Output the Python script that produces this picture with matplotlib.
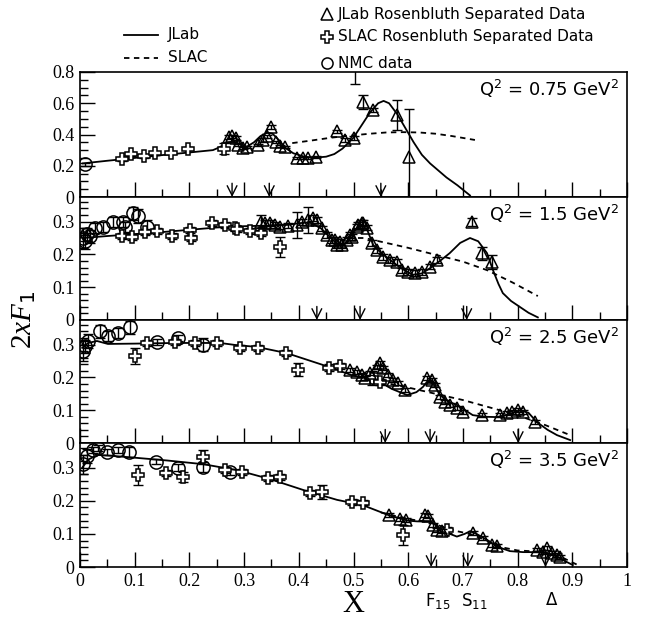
import matplotlib
matplotlib.use("Agg")
import matplotlib.pyplot as plt
from matplotlib.lines import Line2D
from matplotlib.ticker import MultipleLocator, FuncFormatter

plt.rcParams['font.family'] = ['DejaVu Sans']
plt.rcParams['mathtext.fontset'] = 'custom'
plt.rcParams['mathtext.rm'] = 'DejaVu Sans'
plt.rcParams['mathtext.it'] = 'Liberation Serif:italic'
plt.rcParams['mathtext.default'] = 'regular'

# ---------------- data: Q2 = 0.75 ----------------
p1_fit_x = [0.005, 0.05, 0.1, 0.15, 0.2, 0.243, 0.255, 0.268, 0.28, 0.292, 0.305, 0.318, 0.33, 0.342,
            0.352, 0.362, 0.375, 0.39, 0.41, 0.43, 0.45, 0.465, 0.48, 0.5, 0.515, 0.53, 0.545, 0.555,
            0.565, 0.58, 0.595, 0.61, 0.625, 0.64, 0.655, 0.67, 0.69, 0.713]
p1_fit_y = [0.215, 0.232, 0.25, 0.268, 0.285, 0.3, 0.318, 0.345, 0.355, 0.34, 0.322, 0.35, 0.39, 0.412,
            0.405, 0.37, 0.315, 0.28, 0.258, 0.252, 0.258, 0.275, 0.31, 0.38, 0.46, 0.54, 0.6, 0.615,
            0.6, 0.53, 0.44, 0.35, 0.27, 0.215, 0.17, 0.125, 0.075, 0.01]
p1_slac_fit_x = [0.388, 0.42, 0.46, 0.5, 0.53, 0.56, 0.59, 0.62, 0.65, 0.68, 0.722]
p1_slac_fit_y = [0.345, 0.36, 0.38, 0.395, 0.405, 0.413, 0.415, 0.413, 0.405, 0.39, 0.365]
p1_jlab_x = [0.272, 0.278, 0.285, 0.289, 0.298, 0.305, 0.325, 0.335, 0.342, 0.349, 0.358, 0.366, 0.375,
             0.397, 0.408, 0.417, 0.431, 0.47, 0.484, 0.5, 0.503, 0.517, 0.536, 0.58, 0.601]
p1_jlab_y = [0.384, 0.39, 0.378, 0.333, 0.314, 0.32, 0.333, 0.365, 0.39, 0.448, 0.352, 0.326, 0.32,
             0.25, 0.25, 0.25, 0.256, 0.42, 0.365, 0.378, 0.87, 0.61, 0.557, 0.525, 0.256]
p1_jlab_e = [0.01, 0.01, 0.01, 0.008, 0.008, 0.008, 0.008, 0.01, 0.01, 0.01, 0.008, 0.008, 0.008,
             0.008, 0.008, 0.008, 0.008, 0.01, 0.01, 0.01, 0.145, 0.045, 0.01, 0.095, 0.307]
p1_slac_x = [0.077, 0.093, 0.117, 0.137, 0.166, 0.198, 0.263]
p1_slac_y = [0.243, 0.275, 0.262, 0.28, 0.283, 0.31, 0.31]
p1_slac_e = [0.01, 0.01, 0.01, 0.01, 0.01, 0.01, 0.035]
p1_nmc_x = [0.01]
p1_nmc_y = [0.21]
p1_nmc_e = [0.01]
p1_arrows = [0.278, 0.346, 0.55]

# ---------------- data: Q2 = 1.5 ----------------
p2_fit_x = [0.005, 0.05, 0.1, 0.15, 0.2, 0.25, 0.3, 0.35, 0.38, 0.4, 0.42, 0.44, 0.457, 0.47, 0.48,
            0.49, 0.5, 0.515, 0.525, 0.536, 0.55, 0.567, 0.585, 0.608, 0.625, 0.64, 0.658, 0.676,
            0.695, 0.713, 0.728, 0.744, 0.755, 0.765, 0.773, 0.788, 0.804, 0.82, 0.837]
p2_fit_y = [0.25, 0.256, 0.262, 0.268, 0.275, 0.282, 0.286, 0.288, 0.29, 0.295, 0.298, 0.28, 0.253,
            0.232, 0.228, 0.24, 0.27, 0.29, 0.275, 0.229, 0.205, 0.183, 0.16, 0.138, 0.142, 0.158,
            0.18, 0.204, 0.235, 0.25, 0.24, 0.204, 0.152, 0.11, 0.082, 0.058, 0.04, 0.022, 0.008]
p2_slac_fit_x = [0.49, 0.52, 0.56, 0.6, 0.652, 0.7, 0.744, 0.79, 0.837]
p2_slac_fit_y = [0.25, 0.25, 0.235, 0.22, 0.198, 0.178, 0.152, 0.115, 0.073]
p2_jlab_x = [0.331, 0.338, 0.347, 0.356, 0.366, 0.38, 0.396, 0.406, 0.417, 0.426, 0.433, 0.442, 0.452,
             0.461, 0.466, 0.47, 0.475, 0.479, 0.488, 0.494, 0.497, 0.506, 0.508, 0.515, 0.517, 0.525,
             0.534, 0.543, 0.554, 0.567, 0.579, 0.589, 0.6, 0.612, 0.625, 0.64, 0.653, 0.717, 0.735,
             0.753]
p2_jlab_y = [0.299, 0.296, 0.296, 0.29, 0.284, 0.287, 0.29, 0.299, 0.305, 0.311, 0.305, 0.28, 0.259,
             0.244, 0.244, 0.228, 0.238, 0.228, 0.244, 0.259, 0.253, 0.284, 0.29, 0.296, 0.296, 0.281,
             0.235, 0.213, 0.192, 0.183, 0.177, 0.152, 0.146, 0.143, 0.146, 0.162, 0.183, 0.299, 0.204,
             0.177]
p2_jlab_e = [0.02, 0.008, 0.008, 0.008, 0.008, 0.008, 0.04, 0.008, 0.04, 0.008, 0.008, 0.008, 0.008,
             0.008, 0.008, 0.008, 0.008, 0.008, 0.008, 0.008, 0.008, 0.008, 0.008, 0.008, 0.008, 0.008,
             0.008, 0.008, 0.008, 0.008, 0.008, 0.008, 0.008, 0.008, 0.008, 0.008, 0.008, 0.012, 0.02,
             0.02]
p2_slac_x = [0.077, 0.095, 0.119, 0.141, 0.168, 0.201, 0.203, 0.241, 0.265, 0.283, 0.287, 0.311, 0.331,
             0.366]
p2_slac_y = [0.256, 0.253, 0.268, 0.271, 0.256, 0.274, 0.25, 0.296, 0.29, 0.28, 0.277, 0.271, 0.265,
             0.223]
p2_slac_e = [0.01, 0.01, 0.01, 0.01, 0.01, 0.01, 0.01, 0.01, 0.01, 0.01, 0.01, 0.01, 0.01, 0.03]
p2_nmc_x = [0.005, 0.009, 0.013, 0.018, 0.027, 0.042, 0.06, 0.079, 0.082, 0.097, 0.106, 0.122]
p2_nmc_y = [0.25, 0.24, 0.262, 0.255, 0.28, 0.284, 0.299, 0.299, 0.284, 0.326, 0.317, 0.284]
p2_nmc_e = [0.03, 0.025, 0.02, 0.02, 0.015, 0.015, 0.015, 0.015, 0.015, 0.02, 0.02, 0.02]
p2_arrows = [0.433, 0.512, 0.707]

# ---------------- data: Q2 = 2.5 ----------------
p3_fit_x = [0.004, 0.015, 0.031, 0.051, 0.1, 0.174, 0.256, 0.283, 0.323, 0.378, 0.444, 0.5, 0.53,
            0.548, 0.57, 0.598, 0.615, 0.627, 0.636, 0.645, 0.658, 0.675, 0.689, 0.718, 0.74, 0.762,
            0.785, 0.804, 0.82, 0.835, 0.855, 0.872, 0.896]
p3_fit_y = [0.29, 0.305, 0.311, 0.302, 0.303, 0.305, 0.305, 0.299, 0.293, 0.274, 0.238, 0.205, 0.198,
            0.186, 0.165, 0.146, 0.155, 0.171, 0.19, 0.185, 0.146, 0.125, 0.116, 0.085, 0.08, 0.079,
            0.088, 0.1, 0.092, 0.064, 0.04, 0.024, 0.009]
p3_slac_fit_x = [0.55, 0.603, 0.65, 0.7, 0.75, 0.799, 0.85, 0.896]
p3_slac_fit_y = [0.186, 0.168, 0.15, 0.131, 0.108, 0.085, 0.055, 0.024]
p3_jlab_x = [0.494, 0.506, 0.515, 0.521, 0.53, 0.543, 0.548, 0.554, 0.563, 0.572, 0.581, 0.594, 0.634,
             0.643, 0.649, 0.658, 0.667, 0.676, 0.689, 0.7, 0.735, 0.768, 0.781, 0.79, 0.801, 0.81,
             0.832]
p3_jlab_y = [0.223, 0.216, 0.207, 0.198, 0.213, 0.232, 0.244, 0.229, 0.207, 0.192, 0.183, 0.162, 0.198,
             0.192, 0.177, 0.14, 0.125, 0.116, 0.107, 0.094, 0.085, 0.085, 0.091, 0.094, 0.1, 0.094,
             0.064]
p3_slac_x = [0.1, 0.122, 0.174, 0.21, 0.25, 0.292, 0.325, 0.377, 0.399, 0.455, 0.476, 0.534, 0.548]
p3_slac_y = [0.265, 0.305, 0.308, 0.305, 0.305, 0.29, 0.29, 0.274, 0.223, 0.23, 0.235, 0.198, 0.186]
p3_slac_e = [0.025, 0.01, 0.01, 0.01, 0.01, 0.01, 0.01, 0.01, 0.02, 0.01, 0.01, 0.02, 0.01]
p3_nmc_x = [0.006, 0.01, 0.015, 0.036, 0.052, 0.069, 0.091, 0.141, 0.179, 0.225]
p3_nmc_y = [0.28, 0.295, 0.311, 0.341, 0.326, 0.335, 0.353, 0.308, 0.32, 0.299]
p3_nmc_e = [0.03, 0.02, 0.02, 0.02, 0.015, 0.015, 0.02, 0.01, 0.01, 0.02]
p3_arrows = [0.558, 0.64, 0.801]

# ---------------- data: Q2 = 3.5 ----------------
p4_fit_x = [0.004, 0.015, 0.033, 0.06, 0.104, 0.16, 0.225, 0.287, 0.347, 0.408, 0.47, 0.517, 0.567,
            0.6, 0.616, 0.64, 0.652, 0.664, 0.689, 0.703, 0.713, 0.725, 0.744, 0.765, 0.786, 0.81,
            0.846, 0.862, 0.877, 0.89, 0.901]
p4_fit_y = [0.3, 0.325, 0.339, 0.336, 0.33, 0.322, 0.311, 0.293, 0.266, 0.233, 0.203, 0.187, 0.155,
            0.14, 0.138, 0.137, 0.125, 0.108, 0.092, 0.1, 0.108, 0.1, 0.082, 0.06, 0.048, 0.045,
            0.045, 0.038, 0.027, 0.015, 0.006]
p4_slac_fit_x = [0.55, 0.6, 0.64, 0.664, 0.69, 0.713, 0.744, 0.77, 0.8, 0.846, 0.88, 0.915]
p4_slac_fit_y = [0.165, 0.145, 0.135, 0.121, 0.108, 0.1, 0.08, 0.06, 0.05, 0.046, 0.03, 0.002]
p4_jlab_x = [0.565, 0.585, 0.596, 0.631, 0.637, 0.645, 0.652, 0.661, 0.718, 0.737, 0.753, 0.762, 0.835,
             0.846, 0.853, 0.863, 0.872, 0.877]
p4_jlab_y = [0.157, 0.145, 0.142, 0.157, 0.154, 0.127, 0.112, 0.109, 0.103, 0.088, 0.067, 0.064, 0.051,
             0.045, 0.057, 0.042, 0.036, 0.03]
p4_slac_x = [0.106, 0.157, 0.188, 0.225, 0.265, 0.296, 0.344, 0.366, 0.42, 0.442, 0.497, 0.517, 0.591,
             0.671]
p4_slac_y = [0.278, 0.284, 0.272, 0.333, 0.293, 0.287, 0.269, 0.272, 0.224, 0.227, 0.197, 0.194, 0.097,
             0.112]
p4_slac_e = [0.03, 0.008, 0.015, 0.02, 0.008, 0.008, 0.008, 0.01, 0.008, 0.02, 0.008, 0.008, 0.03,
             0.008]
p4_nmc_x = [0.006, 0.013, 0.024, 0.033, 0.049, 0.069, 0.09, 0.139, 0.179, 0.225, 0.274]
p4_nmc_y = [0.31, 0.336, 0.354, 0.36, 0.348, 0.354, 0.348, 0.318, 0.3, 0.303, 0.287]
p4_nmc_e = [0.03, 0.02, 0.01, 0.01, 0.01, 0.01, 0.015, 0.008, 0.01, 0.015, 0.008]
p4_arrows = [0.642, 0.709, 0.851]

q2_labels = ['0.75', '1.5', '2.5', '3.5']
res_names = ['F$_{15}$', 'S$_{11}$', '\u0394']

panels = [
    dict(fit=(p1_fit_x, p1_fit_y), sfit=(p1_slac_fit_x, p1_slac_fit_y),
         jlab=(p1_jlab_x, p1_jlab_y, p1_jlab_e), slac=(p1_slac_x, p1_slac_y, p1_slac_e),
         nmc=(p1_nmc_x, p1_nmc_y, p1_nmc_e), arrows=p1_arrows, ymax=0.8, major=0.2, minor=0.05),
    dict(fit=(p2_fit_x, p2_fit_y), sfit=(p2_slac_fit_x, p2_slac_fit_y),
         jlab=(p2_jlab_x, p2_jlab_y, p2_jlab_e), slac=(p2_slac_x, p2_slac_y, p2_slac_e),
         nmc=(p2_nmc_x, p2_nmc_y, p2_nmc_e), arrows=p2_arrows, ymax=0.375, major=0.1, minor=0.02),
    dict(fit=(p3_fit_x, p3_fit_y), sfit=(p3_slac_fit_x, p3_slac_fit_y),
         jlab=(p3_jlab_x, p3_jlab_y, [0.006] * len(p3_jlab_x)), slac=(p3_slac_x, p3_slac_y, p3_slac_e),
         nmc=(p3_nmc_x, p3_nmc_y, p3_nmc_e), arrows=p3_arrows, ymax=0.375, major=0.1, minor=0.02),
    dict(fit=(p4_fit_x, p4_fit_y), sfit=(p4_slac_fit_x, p4_slac_fit_y),
         jlab=(p4_jlab_x, p4_jlab_y, [0.006] * len(p4_jlab_x)), slac=(p4_slac_x, p4_slac_y, p4_slac_e),
         nmc=(p4_nmc_x, p4_nmc_y, p4_nmc_e), arrows=p4_arrows, ymax=0.375, major=0.1, minor=0.02),
]

W, H = 646, 622
fig = plt.figure(figsize=(W / 100, H / 100), dpi=100)

# panel edges in pixels (top, bottom)
edges = [(72, 197), (197, 320), (320, 443), (443, 567)]
left, right = 80, 627


def fmt(v, pos):
    if abs(v) < 1e-9:
        return '0'
    if abs(v - 1) < 1e-9:
        return '1'
    return '%.1f' % v


axes = []
for i, (p, (top, bot)) in enumerate(zip(panels, edges)):
    ax = fig.add_axes([left / W, 1 - bot / H, (right - left) / W, (bot - top) / H])
    axes.append(ax)
    ax.plot(p['fit'][0], p['fit'][1], color='k', lw=1.3)
    ax.plot(p['sfit'][0], p['sfit'][1], color='k', lw=1.3, ls=(0, (3, 2.5)))
    for key, mk, ms in [('nmc', 'o', 9.5), ('slac', 'P', 9), ('jlab', '^', 9)]:
        xs, ys, es = p[key]
        ax.errorbar(xs, ys, yerr=es, fmt='none', ecolor='k', elinewidth=1, capsize=3.5, capthick=1)
        if key == 'slac':
            ax.plot(xs, ys, ls='none', marker=mk, ms=ms, mfc='white', mec='k', mew=1.1)
        else:
            ax.plot(xs, ys, ls='none', marker=mk, ms=ms, mfc='none', mec='k', mew=1.1)
    for xa in p['arrows']:
        ax.annotate('', xy=(xa, 0), xycoords=('data', 'axes fraction'),
                    xytext=(xa, 0.11), textcoords=('data', 'axes fraction'),
                    arrowprops=dict(arrowstyle='->,head_length=0.7,head_width=0.35',
                                    lw=1, color='k', shrinkA=0, shrinkB=0))
    ax.text(0.985, 0.95, r'Q$^2$ = ' + q2_labels[i] + r' GeV$^2$', transform=ax.transAxes,
            ha='right', va='top', fontsize=13)
    ax.set_xlim(0, 1)
    ax.set_ylim(0, p['ymax'])
    ax.xaxis.set_major_locator(MultipleLocator(0.1))
    ax.xaxis.set_minor_locator(MultipleLocator(0.05))
    ax.yaxis.set_major_locator(MultipleLocator(p['major']))
    ax.yaxis.set_minor_locator(MultipleLocator(p['minor']))
    ax.tick_params(which='both', direction='in', top=False, right=False, width=1)
    ax.tick_params(which='major', length=11)
    ax.tick_params(which='minor', length=6)
    ax.tick_params(axis='both', labelsize=13, pad=4)
    ax.yaxis.set_major_formatter(FuncFormatter(fmt))
    ax.xaxis.set_major_formatter(FuncFormatter(fmt))
    for lab in ax.get_yticklabels() + ax.get_xticklabels():
        lab.set_fontfamily('Liberation Serif')
    if i < 3:
        ax.tick_params(axis='x', labelbottom=False)
    for s in ax.spines.values():
        s.set_linewidth(1.2)

ax4 = axes[-1]
for xa, name in zip(p4_arrows, res_names):
    ax4.text(xa + 0.012, -0.19, name, transform=ax4.get_xaxis_transform(), ha='center', va='top',
             fontsize=12)

fig.text(353 / W, 1 - 605 / H, 'X', ha='center', va='center', fontsize=22, family='Liberation Serif')
fig.text(24 / W, 1 - 320 / H, r'2$\mathit{xF_{1}}$', ha='center', va='center', rotation=90,
         fontsize=21, family='Liberation Serif')


# legend drawn by hand in figure pixels
def fx(px):
    return px / W


def fy(py):
    return 1 - py / H


fig.add_artist(Line2D([fx(124), fx(158)], [fy(35), fy(35)], color='k', lw=1.3, transform=fig.transFigure))
fig.add_artist(Line2D([fx(124), fx(158)], [fy(58), fy(58)], color='k', lw=1.3, ls=(0, (3, 2.5)),
                      transform=fig.transFigure))
fig.text(fx(168), fy(35), 'JLab', va='center', fontsize=11)
fig.text(fx(168), fy(58), 'SLAC', va='center', fontsize=11)
leg_items = [('^', 'none', 14, 'JLab Rosenbluth Separated Data'),
             ('P', 'white', 37, 'SLAC Rosenbluth Separated Data'),
             ('o', 'none', 63, 'NMC data')]
for mk, fc, py, lab in leg_items:
    fig.add_artist(Line2D([fx(327)], [fy(py)], marker=mk, ms=8, mfc=fc, mec='k', mew=1.1, ls='none',
                          transform=fig.transFigure))
    fig.text(fx(338), fy(py), lab, va='center', fontsize=11)

fig.savefig('out.png', dpi=100)
